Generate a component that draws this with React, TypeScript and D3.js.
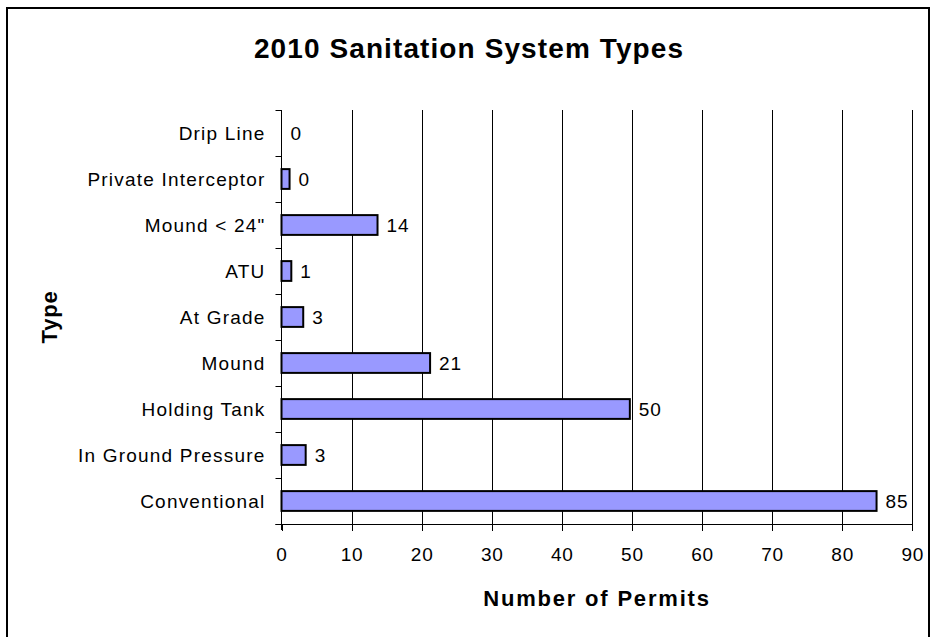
import React from "react";
import * as d3 from "d3";

const categories = [
  "Drip Line",
  "Private Interceptor",
  'Mound < 24"',
  "ATU",
  "At Grade",
  "Mound",
  "Holding Tank",
  "In Ground Pressure",
  "Conventional",
];
const barValues = [0, 1.15, 13.7, 1.4, 3.1, 21.2, 49.7, 3.45, 84.9];
const valueLabels = ["0", "0", "14", "1", "3", "21", "50", "3", "85"];
const xTicks = [0, 10, 20, 30, 40, 50, 60, 70, 80, 90];

const W = 935;
const H = 637;
const FONT = "Arial, 'Liberation Sans', sans-serif";

export default function App() {
  const x = d3.scaleLinear().domain([0, 90]).range([281.5, 912.3]);
  const y = d3.scaleBand<string>().domain(categories).range([110, 524]).padding(0);
  const bw = y.bandwidth();
  const barH = bw * 0.43;
  const x0 = x(0);
  const yBottom = 524;

  return (
    <svg
      width={W}
      height={H}
      style={{ position: "absolute", left: 0, top: 0, background: "#fff" }}
      fontFamily={FONT}
    >
      <rect x={0} y={0} width={W} height={H} fill="#fff" />
      <rect x={7} y={8} width={922} height={640} fill="none" stroke="#000" strokeWidth={2} />

      <text
        x={469}
        y={58}
        textAnchor="middle"
        fontSize={28}
        fontWeight="bold"
        letterSpacing={1.1}
      >
        2010 Sanitation System Types
      </text>

      {/* gridlines */}
      {xTicks.slice(1).map((t) => (
        <line
          key={"g" + t}
          x1={Math.round(x(t)) + 0.5}
          x2={Math.round(x(t)) + 0.5}
          y1={110}
          y2={yBottom}
          stroke="#000"
          strokeWidth={1}
        />
      ))}

      {/* bars */}
      {categories.map((c, i) =>
        barValues[i] > 0 ? (
          <rect
            key={"b" + c}
            x={x0}
            y={(y(c) as number) + bw / 2 - barH / 2}
            width={x(barValues[i]) - x0}
            height={barH}
            fill="#9999FF"
            stroke="#000"
            strokeWidth={2}
          />
        ) : null
      )}

      {/* value labels */}
      {categories.map((c, i) => (
        <text
          key={"v" + c}
          x={x(barValues[i]) + 9}
          y={(y(c) as number) + bw / 2}
          dy="0.35em"
          fontSize={19}
          letterSpacing={0.8}
        >
          {valueLabels[i]}
        </text>
      ))}

      {/* y axis */}
      <line x1={x0} x2={x0} y1={110} y2={yBottom + 6} stroke="#000" strokeWidth={1} />
      {categories.concat(["__end"]).map((c, i) => {
        const yy = Math.round(110 + i * bw) + 0.5;
        return <line key={"yt" + i} x1={x0 - 6} x2={x0} y1={yy} y2={yy} stroke="#000" strokeWidth={1} />;
      })}
      {categories.map((c) => (
        <text
          key={"yl" + c}
          x={265.5}
          y={(y(c) as number) + bw / 2}
          dy="0.35em"
          textAnchor="end"
          fontSize={19}
          letterSpacing={1.2}
        >
          {c}
        </text>
      ))}

      {/* x axis */}
      <line x1={x0 - 6} x2={x(90)} y1={yBottom + 0.5} y2={yBottom + 0.5} stroke="#000" strokeWidth={1} />
      {xTicks.map((t) => (
        <line
          key={"xt" + t}
          x1={Math.round(x(t)) + 0.5}
          x2={Math.round(x(t)) + 0.5}
          y1={yBottom}
          y2={yBottom + 7}
          stroke="#000"
          strokeWidth={1}
        />
      ))}
      {xTicks.map((t) => (
        <text
          key={"xl" + t}
          x={x(t) + 0.5}
          y={561}
          textAnchor="middle"
          fontSize={19}
          letterSpacing={0.8}
        >
          {t}
        </text>
      ))}

      <text
        x={597}
        y={606}
        textAnchor="middle"
        fontSize={22}
        fontWeight="bold"
        letterSpacing={1.8}
      >
        Number of Permits
      </text>
      <text
        transform="translate(57,317) rotate(-90)"
        textAnchor="middle"
        fontSize={22}
        fontWeight="bold"
        letterSpacing={0.8}
      >
        Type
      </text>
    </svg>
  );
}
